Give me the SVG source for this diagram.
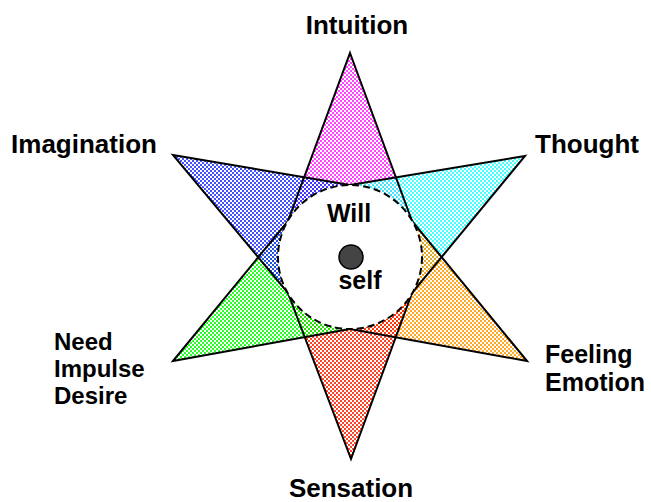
<svg xmlns="http://www.w3.org/2000/svg" width="651" height="502" viewBox="0 0 651 502">
<style>
.lbl{font-family:"Liberation Sans",Arial,sans-serif;font-weight:bold;font-size:26px;fill:#000}
.in{font-size:25px}
.ml{font-size:24px}
.ml2{font-size:25px}
.edge{fill:none;stroke:#000;stroke-width:2;stroke-linejoin:miter}
.ck{fill-opacity:0.85}
</style>
<defs>
<pattern id="pPink" patternUnits="userSpaceOnUse" width="4" height="4"><rect class="ck" x="0" y="0" width="2" height="2" fill="#ff22ff"/><rect class="ck" x="2" y="2" width="2" height="2" fill="#ff22ff"/></pattern>
<pattern id="pCyan" patternUnits="userSpaceOnUse" width="4" height="4"><rect class="ck" x="0" y="0" width="2" height="2" fill="#22ffff"/><rect class="ck" x="2" y="2" width="2" height="2" fill="#22ffff"/></pattern>
<pattern id="pOrange" patternUnits="userSpaceOnUse" width="4" height="4"><rect class="ck" x="0" y="0" width="2" height="2" fill="#ff9900"/><rect class="ck" x="2" y="2" width="2" height="2" fill="#ff9900"/></pattern>
<pattern id="pRed" patternUnits="userSpaceOnUse" width="4" height="4"><rect class="ck" x="0" y="0" width="2" height="2" fill="#ff2200"/><rect class="ck" x="2" y="2" width="2" height="2" fill="#ff2200"/></pattern>
<pattern id="pGreen" patternUnits="userSpaceOnUse" width="4" height="4"><rect class="ck" x="0" y="0" width="2" height="2" fill="#00ff00"/><rect class="ck" x="2" y="2" width="2" height="2" fill="#00ff00"/></pattern>
<pattern id="pBlue" patternUnits="userSpaceOnUse" width="4" height="4"><rect class="ck" x="0" y="0" width="2" height="2" fill="#2233ff"/><rect class="ck" x="2" y="2" width="2" height="2" fill="#2233ff"/></pattern>
</defs>
<rect width="651" height="502" fill="#fff"/>
<g id="fills">
<polygon points="350,53 412,221 288,221" fill="url(#pPink)"/>
<polygon points="525,156 350,185 412,293" fill="url(#pCyan)"/>
<polygon points="527,361 412,221 350,329" fill="url(#pOrange)"/>
<polygon points="351,459 412,293 288,293" fill="url(#pRed)"/>
<polygon points="173,361 288,221 350,329" fill="url(#pGreen)"/>
<polygon points="173,155 350,185 288,293" fill="url(#pBlue)"/>
</g>
<g id="connectors">
<polygon class="edge" points="350,53 412,221 288,221"/>
<polygon class="edge" points="525,156 350,185 412,293"/>
<polygon class="edge" points="527,361 412,221 350,329"/>
<polygon class="edge" points="351,459 412,293 288,293"/>
<polygon class="edge" points="173,361 288,221 350,329"/>
<polygon class="edge" points="173,155 350,185 288,293"/>
</g>
<g id="will">
<circle cx="350" cy="257" r="72" fill="#fff" stroke="#000" stroke-width="2" stroke-dasharray="7,4"/>
<text class="lbl in" x="349" y="222" text-anchor="middle">Will</text>
</g>
<g id="self">
<circle cx="351" cy="257" r="12" fill="#444" stroke="#000" stroke-width="1.5"/>
<text class="lbl in" x="360" y="289" text-anchor="middle">self</text>
</g>
<g id="intuition"><text class="lbl" x="357" y="34" text-anchor="middle">Intuition</text></g>
<g id="imagination"><text class="lbl" x="84" y="153" text-anchor="middle">Imagination</text></g>
<g id="thought"><text class="lbl" x="587" y="153" text-anchor="middle">Thought</text></g>
<g id="need"><text class="lbl ml" x="54" y="350">Need</text><text class="lbl ml" x="54" y="377">Impulse</text><text class="lbl ml" x="54" y="404">Desire</text></g>
<g id="feeling"><text class="lbl ml2" x="545" y="363">Feeling</text><text class="lbl ml2" x="545" y="391">Emotion</text></g>
<g id="sensation"><text class="lbl" x="351" y="497" text-anchor="middle">Sensation</text></g>
</svg>
